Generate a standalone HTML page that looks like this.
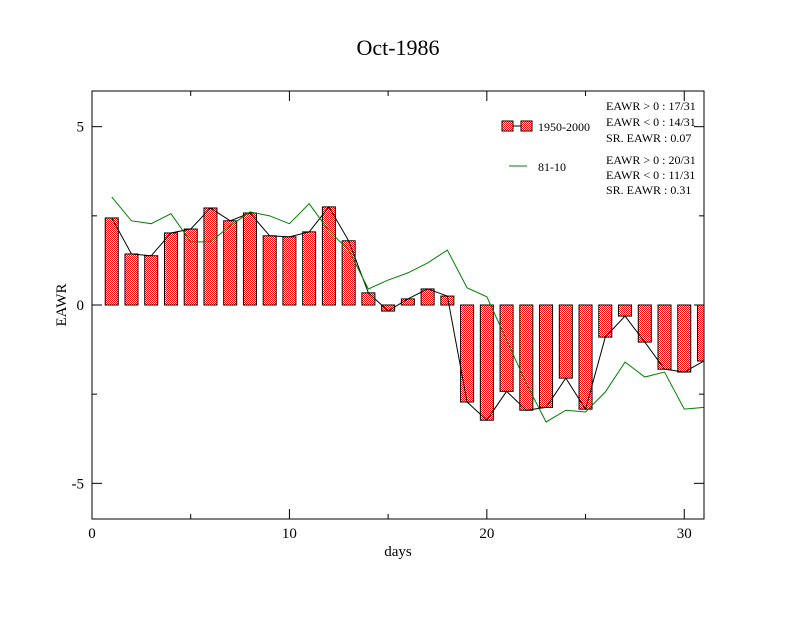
<!DOCTYPE html>
<html><head><meta charset="utf-8"><style>
body{margin:0;background:#fff}
svg text{font-family:"Liberation Serif",serif;fill:#000}
</style></head><body>
<svg id="chart" width="792" height="612" xmlns="http://www.w3.org/2000/svg">
<defs><pattern id="chk" width="2" height="2" patternUnits="userSpaceOnUse"><rect width="2" height="2" fill="#fff"/><rect width="1" height="1" fill="#f00"/><rect x="1" y="1" width="1" height="1" fill="#f00"/></pattern></defs>
<rect width="792" height="612" fill="#fff"/>
<text x="398" y="55" font-size="22" text-anchor="middle">Oct-1986</text>
<g id="marks"></g>
<rect x="92" y="91" width="612" height="428" fill="none" stroke="#000"/>
<g id="axes"></g>
<text x="398" y="556" font-size="15" text-anchor="middle">days</text>
<text x="66" y="305" font-size="15" text-anchor="middle" transform="rotate(-90 66 305)">EAWR</text>
<g font-size="12">
<rect x="502" y="121" width="11" height="10" fill="url(#chk)" stroke="#000"/>
<line x1="513" y1="126" x2="521" y2="126" stroke="#000"/>
<rect x="521" y="121" width="11" height="10" fill="url(#chk)" stroke="#000"/>
<text x="538" y="131">1950-2000</text>
<line x1="509" y1="166" x2="527" y2="166" stroke="#008000"/>
<text x="538" y="171">81-10</text>
<text x="606" y="110">EAWR &gt; 0 : 17/31</text>
<text x="606" y="126">EAWR &lt; 0 : 14/31</text>
<text x="606" y="142">SR. EAWR :  0.07</text>
<text x="606" y="164">EAWR &gt; 0 : 20/31</text>
<text x="606" y="179">EAWR &lt; 0 : 11/31</text>
<text x="606" y="194">SR. EAWR :  0.31</text>
</g>
</svg>
<script>
const days=[1,2,3,4,5,6,7,8,9,10,11,12,13,14,15,16,17,18,19,20,21,22,23,24,25,26,27,28,29,30,31];
const clim5000=[2.44,1.43,1.38,2.02,2.13,2.72,2.36,2.58,1.94,1.91,2.05,2.75,1.80,0.34,-0.17,0.17,0.45,0.25,-2.72,-3.23,-2.42,-2.95,-2.87,-2.05,-2.92,-0.9,-0.31,-1.04,-1.8,-1.88,-1.57];
const clim8110=[3.03,2.36,2.28,2.56,1.77,1.77,2.22,2.61,2.5,2.28,2.84,2.08,1.54,0.45,0.7,0.9,1.18,1.54,0.48,0.23,-0.98,-2.2,-3.28,-2.95,-3.0,-2.44,-1.6,-2.02,-1.88,-2.92,-2.87];
const xTicks=[0,10,20,30];
const yTicks=[5,0,-5];
const NS="http://www.w3.org/2000/svg";
const X=d=>92+d*(612/31);
const Y=v=>305-v*(214/6);
const marks=document.getElementById('marks'),axes=document.getElementById('axes');
function mk(tag,attrs,parent){const e=document.createElementNS(NS,tag);for(const k in attrs)e.setAttribute(k,attrs[k]);parent.appendChild(e);return e;}
days.forEach((d,i)=>{const v=clim5000[i];const x0=Math.max(X(d)-6.5,92),x1=Math.min(X(d)+6.5,704);
const r=mk('rect',{x:x0,y:Math.min(Y(v),Y(0)),width:x1-x0,height:Math.abs(Y(v)-Y(0)),fill:'url(#chk)',stroke:'#000','stroke-width':1},marks);

});
const l1=mk('polyline',{points:days.map((d,i)=>X(d)+','+Y(clim5000[i])).join(' '),fill:'none',stroke:'#000'},marks);


const l2=mk('polyline',{points:days.map((d,i)=>X(d)+','+Y(clim8110[i])).join(' '),fill:'none',stroke:'#008000'},marks);


for(let d=0;d<=31;d+=5){const big=d%10===0;mk('line',{x1:X(d),x2:X(d),y1:519,y2:519-(big?10:5),stroke:'#000'},axes);mk('line',{x1:X(d),x2:X(d),y1:91,y2:91+(big?10:5),stroke:'#000'},axes);}
xTicks.forEach(t=>{const e=mk('text',{x:X(t),y:538,'font-size':15,'text-anchor':'middle'},axes);e.textContent=t;

});
for(let v=-5;v<=5;v+=2.5){const big=v%5===0;mk('line',{x1:92,x2:92+(big?10:5),y1:Y(v),y2:Y(v),stroke:'#000'},axes);mk('line',{x1:704,x2:704-(big?10:5),y1:Y(v),y2:Y(v),stroke:'#000'},axes);}
yTicks.forEach(t=>{const e=mk('text',{x:84,y:Y(t)+5,'font-size':15,'text-anchor':'end'},axes);e.textContent=t;

});
</script>
</body></html>
